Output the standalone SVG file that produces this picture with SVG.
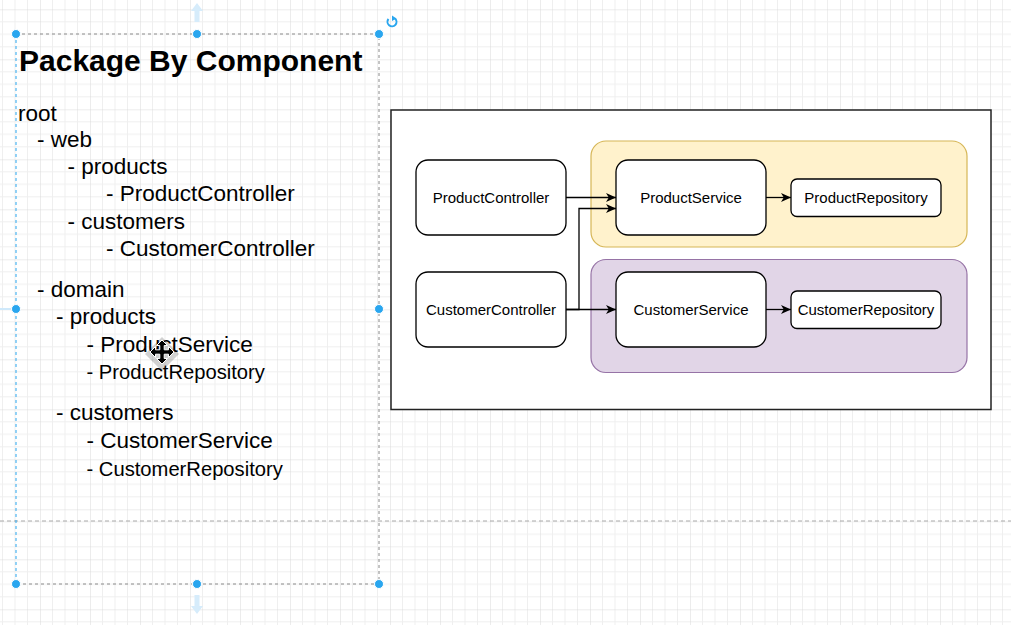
<svg xmlns="http://www.w3.org/2000/svg" width="1011" height="625" viewBox="0 0 1011 625">
<defs>
<style>
.tree{font-family:"Liberation Sans",Arial,sans-serif;font-size:22.5px;fill:#000}
.small{font-size:20.2px}
.title{font-family:"Liberation Sans",Arial,sans-serif;font-size:30px;font-weight:bold;fill:#000}
.box{fill:#fff;stroke:#000;stroke-width:1.3}
.lbl{font-family:"Liberation Sans",Arial,sans-serif;font-size:15px;fill:#000;text-anchor:middle}
.edge{fill:none;stroke:#000;stroke-width:1.3}
.handle{fill:#29a6ef;stroke:#fff;stroke-width:1}
.sel{fill:none;stroke:#8a8a8a;stroke-width:1;stroke-dasharray:3 3}
</style>
<pattern id="grid" x="40" y="9.3" width="50" height="50" patternUnits="userSpaceOnUse">
<path d="M12.5 0V50M25 0V50M37.5 0V50M0 12.5H50M0 25H50M0 37.5H50" stroke="#efefef" stroke-width="1" fill="none"/>
<path d="M0 0V50M0 0H50" stroke="#d9d9d9" stroke-width="1" fill="none"/>
</pattern>
<marker id="arr" viewBox="0 0 10 9" refX="10" refY="4.5" markerWidth="10.5" markerHeight="9" markerUnits="userSpaceOnUse" orient="auto">
<path d="M0,0 L10,4.5 L0,9 L2.8,4.5 Z" fill="#000"/>
</marker>
</defs>
<rect width="1011" height="625" fill="#fff"/>
<rect width="1011" height="625" fill="url(#grid)"/>
<line x1="0" y1="521" x2="1011" y2="521" stroke="#a8a8a8" stroke-width="1" stroke-dasharray="4 3"/>

<g id="text-block">
<text class="title" x="19" y="71">Package By Component</text>
<text class="tree" x="18" y="121">root</text>
<text class="tree" x="37" y="147">- web</text>
<text class="tree" x="67.5" y="173.5">- products</text>
<text class="tree" x="106" y="201">- ProductController</text>
<text class="tree" x="67.5" y="228.5">- customers</text>
<text class="tree" x="106" y="256">- CustomerController</text>
<text class="tree" x="37" y="297">- domain</text>
<text class="tree" x="56" y="323.5">- products</text>
<text class="tree" x="86.5" y="352">- ProductService</text>
<text class="tree small" x="86.5" y="378.5">- ProductRepository</text>
<text class="tree" x="56" y="420">- customers</text>
<text class="tree" x="86.5" y="447.5">- CustomerService</text>
<text class="tree small" x="86.5" y="476">- CustomerRepository</text>
</g>

<g id="diagram-frame">
<rect x="391" y="110" width="600" height="299.5" fill="#fff" stroke="#222" stroke-width="1.5"/>
</g>
<g id="products-group">
<rect x="591" y="141" width="376" height="106" rx="15" fill="#fff2cc" stroke="#d6b656" stroke-width="1.2"/>
</g>
<g id="customers-group">
<rect x="591" y="259.5" width="376" height="113" rx="15" fill="#e1d5e7" stroke="#9673a6" stroke-width="1.2"/>
</g>

<g id="ProductController">
<rect class="box" x="416" y="160" width="150" height="75" rx="12"/>
<text class="lbl" x="491" y="202.5">ProductController</text>
</g>
<g id="CustomerController">
<rect class="box" x="416" y="272" width="150" height="75" rx="12"/>
<text class="lbl" x="491" y="314.5">CustomerController</text>
</g>
<g id="ProductService">
<rect class="box" x="616" y="160" width="150" height="75" rx="12"/>
<text class="lbl" x="691" y="202.5">ProductService</text>
</g>
<g id="CustomerService">
<rect class="box" x="616" y="272" width="150" height="75" rx="12"/>
<text class="lbl" x="691" y="314.5">CustomerService</text>
</g>
<g id="ProductRepository">
<rect class="box" x="791" y="179" width="150" height="37.5" rx="6"/>
<text class="lbl" x="866" y="203">ProductRepository</text>
</g>
<g id="CustomerRepository">
<rect class="box" x="791" y="291" width="150" height="37.5" rx="6"/>
<text class="lbl" x="866" y="315">CustomerRepository</text>
</g>

<g id="connectors">
<path class="edge" d="M566 197.5H616" marker-end="url(#arr)"/>
<path class="edge" d="M566 309.5H616" marker-end="url(#arr)"/>
<path class="edge" d="M566 309.5H579V208.5H616" marker-end="url(#arr)"/>
<path class="edge" d="M766 197.5H791" marker-end="url(#arr)"/>
<path class="edge" d="M766 309.5H791" marker-end="url(#arr)"/>
</g>

<g id="selection">
<path class="sel" d="M16 34H379V584H16"/>
<line x1="16" y1="34" x2="16" y2="584" stroke="#29a6ef" stroke-width="1" stroke-dasharray="3 3"/>
<line x1="0" y1="309" x2="12" y2="309" stroke="#cfe9fb" stroke-width="2"/>
<path d="M197 3 L191 11 H194.5 V22 H199.5 V11 H203 Z" fill="#d6ecfb"/>
<path d="M197 614 L191 606 H194.5 V595 H199.5 V606 H203 Z" fill="#d6ecfb"/>
<circle class="handle" cx="16" cy="34" r="4.5"/>
<circle class="handle" cx="197" cy="34" r="4.5"/>
<circle class="handle" cx="379" cy="34" r="4.5"/>
<circle class="handle" cx="16" cy="309" r="4.5"/>
<circle class="handle" cx="379" cy="309" r="4.5"/>
<circle class="handle" cx="16" cy="584" r="4.5"/>
<circle class="handle" cx="197" cy="584" r="4.5"/>
<circle class="handle" cx="379" cy="584" r="4.5"/>
<path d="M395 18.5 A4.5 4.5 0 1 1 388.5 19" fill="none" stroke="#29a6ef" stroke-width="2"/>
<path d="M392 15.5 L396.5 18.5 L392 21 Z" fill="#29a6ef"/>
</g>

<g id="cursor">
<path d="M162 337 L179 354 L162 371 L145 354 Z" fill="#000" opacity="0.18"/>
<path d="M162 340 L167.5 345.5 H164.2 V349.8 H168.5 V346.5 L174 352 L168.5 357.5 V354.2 H164.2 V358.5 H167.5 L162 364 L156.5 358.5 H159.8 V354.2 H155.5 V357.5 L150 352 L155.5 346.5 V349.8 H159.8 V345.5 H156.5 Z" fill="#000" stroke="#fff" stroke-width="1"/>
</g>
</svg>
